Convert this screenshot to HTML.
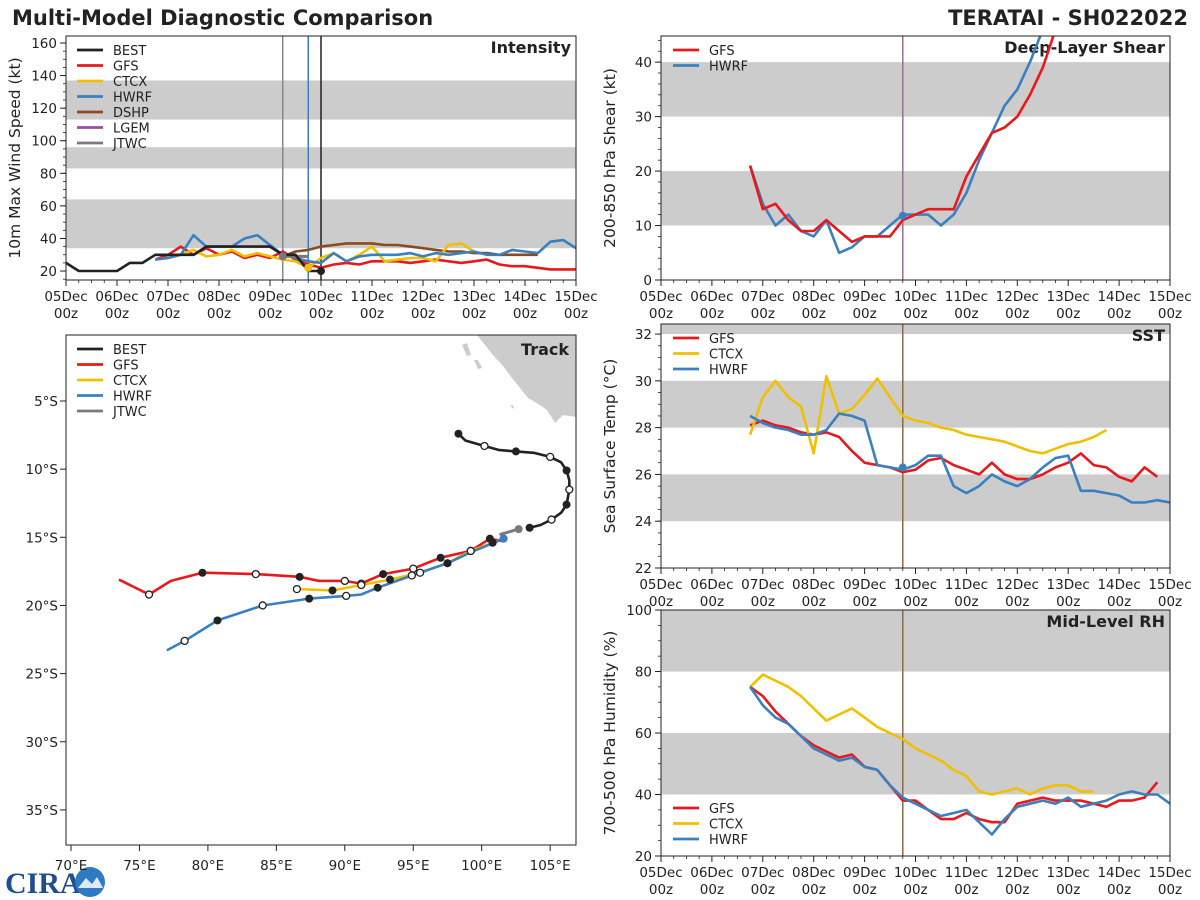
<!DOCTYPE html>
<html><head><meta charset="utf-8"><style>
html,body{margin:0;padding:0;background:#fff;}
svg{display:block;font-family:"DejaVu Sans","Liberation Sans",sans-serif;}
</style></head><body>
<svg id="fig" width="1200" height="900" viewBox="0 0 1200 900" xmlns="http://www.w3.org/2000/svg">
<text x="12" y="25" font-size="21" font-weight="bold" fill="#222">Multi-Model Diagnostic Comparison</text>
<text x="1188" y="25" font-size="21" font-weight="bold" fill="#222" text-anchor="end">TERATAI - SH022022</text>
<g>
<text x="5" y="893" font-size="30" font-weight="bold" fill="#1f4e8c" font-family="Liberation Serif,serif">CIRA</text>
<circle cx="90" cy="882" r="15" fill="#2e7bc4"/>
<path d="M78 888 L86 878 L92 884 L97 877 L103 888 Z" fill="#dfe8f5"/>
</g>
</svg>
<script>
// ---------- Data ----------
const dayLabels = ["05Dec","06Dec","07Dec","08Dec","09Dec","10Dec","11Dec","12Dec","13Dec","14Dec","15Dec"];
const intYTicks = [20,40,60,80,100,120,140,160];
const shearYTicks = [0,10,20,30,40];
const sstYTicks = [22,24,26,28,30,32];
const rhYTicks = [20,40,60,80,100];

const bestStart = 0;
const bestInt = [25,20,20,20,20,25,25,30,30,30,30,35,35,35,35,35,35,30,30,20,20];
const gfsStart = 42;
const gfsInt = [27,30,35,30,34,30,32,28,30,28,32,27,24,22,24,25,24,26,26,26,25,26,27,26,25,26,27,24,23,23,22,21,21,21];
const ctcxStart = 42;
const ctcxInt = [27,28,30,33,29,30,33,29,31,29,27,26,22,28,31,26,30,35,26,27,28,28,26,36,37,32];
const hwrfStart = 42;
const hwrfInt = [27,28,30,42,35,35,35,40,42,36,30,28,26,25,31,26,29,30,30,30,31,29,31,30,31,32,30,30,33,32,31,38,39,34];
const dshpStart = 102;
const dshpInt = [29,32,33,35,36,37,37,37,36,36,35,34,33,32,32,31,31,30,30,30,30];
const lgemStart = 102;
const lgemInt = [29,29,29];
const jtwcStart = 102;
const jtwcInt = [29,29,29];

const shearStart = 42;
const gfsShear = [21,13,14,11,9,9,11,9,7,8,8,8,11,12,13,13,13,19,23,27,28,30,34,39,46];
const hwrfShear = [21,14,10,12,9,8,11,5,6,8,8,10,12,12,12,10,12,16,22,27,32,35,40,46];

const sstStart = 42;
const gfsSst = [28.1,28.3,28.1,28.0,27.8,27.7,27.8,27.6,27.0,26.5,26.4,26.3,26.1,26.2,26.6,26.7,26.4,26.2,26.0,26.5,26.0,25.8,25.8,26.0,26.3,26.5,26.9,26.4,26.3,25.9,25.7,26.3,25.9];
const ctcxSst = [27.7,29.3,30.0,29.3,28.9,26.9,30.2,28.6,28.8,29.4,30.1,29.3,28.5,28.3,28.2,28.0,27.9,27.7,27.6,27.5,27.4,27.2,27.0,26.9,27.1,27.3,27.4,27.6,27.9];
const hwrfSst = [28.5,28.2,28.0,27.9,27.7,27.7,27.9,28.6,28.5,28.3,26.4,26.3,26.2,26.4,26.8,26.8,25.5,25.2,25.5,26.0,25.7,25.5,25.8,26.3,26.7,26.8,25.3,25.3,25.2,25.1,24.8,24.8,24.9,24.8];

const rhStart = 42;
const gfsRh = [75,72,67,63,59,56,54,52,53,49,48,43,38,38,35,32,32,34,32,31,31,37,38,39,38,38,38,37,36,38,38,39,44];
const ctcxRh = [75,79,77,75,72,68,64,66,68,65,62,60,58,55,53,51,48,46,41,40,41,42,40,42,43,43,41,41];
const hwrfRh = [75,69,65,63,59,55,53,51,52,49,48,43,39,37,35,33,34,35,31,27,32,36,37,38,37,39,36,37,38,40,41,40,40,37];

// Track (lon E, lat S)
const bestLon = [98.3,98.8,100.2,101.3,102.5,103.8,105.0,105.8,106.2,106.4,106.4,106.2,105.8,105.1,104.3,103.5];
const bestLat = [7.4,7.9,8.3,8.6,8.7,8.8,9.1,9.5,10.1,10.8,11.5,12.6,13.2,13.7,14.1,14.3];
const bestMark = [1,0,0,0,1,0,0,0,1,0,0,1,0,0,0,1];
const bestOpenMark = [0,0,1,0,0,0,1,0,0,0,1,0,0,1,0,0];
const jtwcLon = [102.7,101.3];
const jtwcLat = [14.4,14.8];
const gfsLon = [101.6,100.6,99.2,97.0,95.0,92.8,91.2,90.0,88.1,86.7,83.5,79.6,77.3,75.7,73.5];
const gfsLat = [15.3,15.1,16.0,16.5,17.3,17.7,18.4,18.2,18.2,17.9,17.7,17.6,18.2,19.2,18.1];
const gfsMark = [0,1,0,1,0,1,0,0,0,1,0,1,0,0,0];
const gfsOpen = [0,0,1,0,1,0,1,1,0,0,1,0,0,1,0];
const ctcxLon = [101.6,100.8,99.2,97.5,95.5,93.3,91.2,89.1,86.5];
const ctcxLat = [15.1,15.4,16.0,16.9,17.6,18.1,18.5,18.9,18.8];
const ctcxOpen = [0,0,1,0,1,0,1,0,1];
const ctcxFill = [0,1,0,1,0,1,0,1,0];
const hwrfLon = [101.6,99.2,97.5,94.9,92.4,91.2,90.1,87.4,84.0,80.7,78.3,77.0];
const hwrfLat = [15.1,16.1,16.9,17.8,18.7,19.2,19.3,19.5,20.0,21.1,22.6,23.3];
const hwrfOpen = [0,0,0,1,0,0,1,0,1,0,1,0];
const hwrfFill = [1,0,1,0,1,0,0,1,0,1,0,0];

// ---------- Drawing ----------
const svg = document.getElementById('fig');
const NS = 'http://www.w3.org/2000/svg';
function mk(tag, attrs, parent){
  const e = document.createElementNS(NS, tag);
  for (const k in attrs) e.setAttribute(k, attrs[k]);
  (parent||svg).appendChild(e);
  return e;
}
const C = {best:'#222222',gfs:'#e8191c',ctcx:'#f0c000',hwrf:'#3a80bf',dshp:'#8b4a23',lgem:'#9b4da0',jtwc:'#7a7a7a'};

const defs = mk('defs', {});
const cp = mk('clipPath', {id:'clipS'}, defs);
mk('rect', {x:661, y:36, width:509, height:244}, cp);
const cpT = mk('clipPath', {id:'clipT'}, defs);
mk('rect', {x:66, y:335, width:510, height:510}, cpT);

function panel(name, x0, x1, y0, y1, ymin, ymax, bands, yticks, minorStep, ylabel, title){
  const g = mk('g', {});
  
  
  const sy = v => y1 - (v - ymin) / (ymax - ymin) * (y1 - y0);
  const sx = h => x0 + h / 240 * (x1 - x0);
  bands.forEach(b => {
    const r = mk('rect', {x:x0, y:sy(Math.min(b[1],ymax)), width:x1-x0, height:sy(b[0])-sy(Math.min(b[1],ymax)), fill:'#cccccc'}, g);
    
    
  });
  yticks.forEach(v => {
    mk('line', {x1:x0-6, x2:x0, y1:sy(v), y2:sy(v), stroke:'#222', 'stroke-width':1}, g);
    const t = mk('text', {x:x0-9, y:sy(v)+5, 'font-size':13.5, 'text-anchor':'end', fill:'#222'}, g);
    t.textContent = v;
    
    
  });
  if (minorStep) for (let v = Math.ceil(ymin/minorStep)*minorStep; v <= ymax; v += minorStep)
    mk('line', {x1:x0-3, x2:x0, y1:sy(v), y2:sy(v), stroke:'#222', 'stroke-width':0.8}, g);
  for (let h = 0; h <= 240; h += 6) {
    const major = h % 24 === 0;
    mk('line', {x1:sx(h), x2:sx(h), y1:y1, y2:y1+(major?6:3), stroke:'#222', 'stroke-width':major?1:0.8}, g);
    if (major) {
      const t = mk('text', {x:sx(h), y:y1+21, 'font-size':13.5, 'text-anchor':'middle', fill:'#222'}, g);
      t.textContent = dayLabels[h/24];
      
      
      const t2 = mk('text', {x:sx(h), y:y1+38, 'font-size':13.5, 'text-anchor':'middle', fill:'#222'}, g);
      t2.textContent = '00z';
      
      
    }
  }
  const yl = mk('text', {x:0, y:0, 'font-size':15.5, 'text-anchor':'middle', fill:'#222', transform:`translate(${x0-46},${(y0+y1)/2}) rotate(-90)`}, g);
  yl.textContent = ylabel;
  
  
  const tt = mk('text', {x:x1-5, y:y0+17, 'font-size':16, 'font-weight':'bold', 'text-anchor':'end', fill:'#222'}, g);
  tt.textContent = title;
  
  
  return {g, sx, sy, x0, x1, y0, y1};
}
function series(p, start, vals, color, name, width){
  const pts = vals.map((v,i) => p.sx(start + i*6).toFixed(1) + ',' + p.sy(v).toFixed(1)).join(' ');
  const l = mk('polyline', {points:pts, fill:'none', stroke:color, 'stroke-width':width||2.6, 'stroke-linejoin':'round'}, p.g);
  
  
  return l;
}
function frame(p){
  const r = mk('rect', {x:p.x0, y:p.y0, width:p.x1-p.x0, height:p.y1-p.y0, fill:'none', stroke:'#222', 'stroke-width':1}, p.g);
  
  
}
function legend(p, x, y, items){
  items.forEach((it,i) => {
    mk('line', {x1:x, x2:x+26, y1:y+i*15.5, y2:y+i*15.5, stroke:it[1], 'stroke-width':2.8}, p.g);
    const t = mk('text', {x:x+36, y:y+i*15.5+5, 'font-size':13, fill:'#222'}, p.g);
    t.textContent = it[0];
    
    
  });
}
function vline(p, h, color){
  const l = mk('line', {x1:p.sx(h), x2:p.sx(h), y1:p.y0, y2:p.y1, stroke:color, 'stroke-width':1.5}, p.g);
  
  
}

// Intensity
const pI = panel('intensity', 66, 576, 36, 280, 14.5, 164.3, [[34,64],[83,96],[113,137]], intYTicks, 5, '10m Max Wind Speed (kt)', 'Intensity');
vline(pI, 102, '#888'); vline(pI, 114, C.hwrf); vline(pI, 120, '#222');
series(pI, gfsStart, gfsInt, C.gfs, 'gfs-intensity-line');
series(pI, dshpStart, dshpInt, C.dshp, 'dshp-intensity-line');
series(pI, ctcxStart, ctcxInt, C.ctcx, 'ctcx-intensity-line');
series(pI, hwrfStart, hwrfInt, C.hwrf, 'hwrf-intensity-line');
series(pI, lgemStart, lgemInt, C.lgem, 'lgem-intensity-line');
series(pI, jtwcStart, jtwcInt, C.jtwc, 'jtwc-intensity-line', 3);
series(pI, bestStart, bestInt, C.best, 'best-intensity-line');
mk('circle', {cx:pI.sx(120), cy:pI.sy(bestInt[bestInt.length-1]), r:4, fill:'#222'}, pI.g);
mk('circle', {cx:pI.sx(102), cy:pI.sy(29), r:4, fill:C.jtwc}, pI.g);
mk('circle', {cx:pI.sx(114), cy:pI.sy(22), r:4, fill:C.ctcx}, pI.g);
frame(pI);
legend(pI, 77, 50, [['BEST',C.best],['GFS',C.gfs],['CTCX',C.ctcx],['HWRF',C.hwrf],['DSHP',C.dshp],['LGEM',C.lgem],['JTWC',C.jtwc]]);

// Shear
const pS = panel('shear', 661, 1170, 36, 280, 0, 44.8, [[10,20],[30,40]], shearYTicks, 2, '200-850 hPa Shear (kt)', 'Deep-Layer Shear');
vline(pS, 114, '#9a6f8f');
series(pS, shearStart, hwrfShear, C.hwrf, 'hwrf-shear-line').setAttribute('clip-path','url(#clipS)');
series(pS, shearStart, gfsShear, C.gfs, 'gfs-shear-line').setAttribute('clip-path','url(#clipS)');
mk('circle', {cx:pS.sx(114), cy:pS.sy(11.8), r:4, fill:C.hwrf}, pS.g);
frame(pS);
legend(pS, 673, 50, [['GFS',C.gfs],['HWRF',C.hwrf]]);

// SST
const pT = panel('sst', 661, 1170, 324, 568, 22, 32.43, [[24,26],[28,30],[32,33]], sstYTicks, 0.5, 'Sea Surface Temp (°C)', 'SST');
vline(pT, 114, '#8b6a4a');
series(pT, sstStart, gfsSst, C.gfs, 'gfs-sst-line');
series(pT, sstStart, ctcxSst, C.ctcx, 'ctcx-sst-line');
series(pT, sstStart, hwrfSst, C.hwrf, 'hwrf-sst-line');
mk('circle', {cx:pT.sx(114), cy:pT.sy(26.3), r:4, fill:C.hwrf}, pT.g);
frame(pT);
legend(pT, 673, 338, [['GFS',C.gfs],['CTCX',C.ctcx],['HWRF',C.hwrf]]);

// RH
const pR = panel('rh', 661, 1170, 610, 856, 20, 100, [[40,60],[80,100]], rhYTicks, 5, '700-500 hPa Humidity (%)', 'Mid-Level RH');
vline(pR, 114, '#8b6a4a');
series(pR, rhStart, ctcxRh, C.ctcx, 'ctcx-rh-line');
series(pR, rhStart, gfsRh, C.gfs, 'gfs-rh-line');
series(pR, rhStart, hwrfRh, C.hwrf, 'hwrf-rh-line');
frame(pR);
legend(pR, 673, 808, [['GFS',C.gfs],['CTCX',C.ctcx],['HWRF',C.hwrf]]);

// Track
const gT = mk('g', {});


const lx = l => 71 + (l - 70) * 13.69;
const ly = s => 401 + (s - 5) * 13.63;
const land = mk('path', {d:'M477 335 L493 355 L503 366 L512 378 L520 388 L528 398 L540 405 L547 410 L552 418 L555 423 L563 415 L570 416 L577 417 L577 335 Z', fill:'#cccccc', 'clip-path':'url(#clipT)'}, gT);


mk('path', {d:'M462 345 L467 343 L471 355 L467 356 Z M474 360 L478 360 L482 368 L478 369 Z M510 405 L514 406 L513 409 Z', fill:'#cccccc'}, gT);
[70,75,80,85,90,95,100,105].forEach(l => {
  mk('line', {x1:lx(l), x2:lx(l), y1:845, y2:851, stroke:'#222'}, gT);
  const t = mk('text', {x:lx(l), y:870, 'font-size':13.5, 'text-anchor':'middle', fill:'#222'}, gT);
  t.textContent = l + '°E';
  
  
});
[5,10,15,20,25,30,35].forEach(s => {
  mk('line', {x1:60, x2:66, y1:ly(s), y2:ly(s), stroke:'#222'}, gT);
  const t = mk('text', {x:58, y:ly(s)+5, 'font-size':13.5, 'text-anchor':'end', fill:'#222'}, gT);
  t.textContent = s + '°S';
  
  
});
function track(lons, lats, color, name, w){
  const pts = lons.map((l,i) => lx(l).toFixed(1) + ',' + ly(lats[i]).toFixed(1)).join(' ');
  const p = mk('polyline', {points:pts, fill:'none', stroke:color, 'stroke-width':w||2.6, 'stroke-linejoin':'round'}, gT);
  
  
}
function marks(lons, lats, fills, opens){
  lons.forEach((l,i) => {
    if (fills[i]) mk('circle', {cx:lx(l), cy:ly(lats[i]), r:4, fill:'#222'}, gT);
    else if (opens && opens[i]) mk('circle', {cx:lx(l), cy:ly(lats[i]), r:3.5, fill:'#fff', stroke:'#222', 'stroke-width':1.3}, gT);
  });
}
track(gfsLon, gfsLat, C.gfs, 'gfs-track');
track(ctcxLon, ctcxLat, C.ctcx, 'ctcx-track');
track(hwrfLon, hwrfLat, C.hwrf, 'hwrf-track');
track(bestLon, bestLat, C.best, 'best-track');
track(jtwcLon, jtwcLat, C.jtwc, 'jtwc-track', 3);
marks(bestLon, bestLat, bestMark, bestOpenMark);
marks(gfsLon, gfsLat, gfsMark, gfsOpen);
marks(ctcxLon, ctcxLat, ctcxFill, ctcxOpen);
marks(hwrfLon, hwrfLat, hwrfFill, hwrfOpen);
mk('circle', {cx:lx(101.6), cy:ly(15.1), r:4, fill:C.hwrf}, gT);
mk('circle', {cx:lx(102.7), cy:ly(14.4), r:4, fill:C.jtwc}, gT);
const tf = mk('rect', {x:66, y:335, width:510, height:510, fill:'none', stroke:'#222'}, gT);


const ttl = mk('text', {x:569, y:355, 'font-size':16, 'font-weight':'bold', 'text-anchor':'end', fill:'#222'}, gT);
ttl.textContent = 'Track';


legend({g:gT}, 77, 349, [['BEST',C.best],['GFS',C.gfs],['CTCX',C.ctcx],['HWRF',C.hwrf],['JTWC',C.jtwc]]);
</script>
</body></html>
